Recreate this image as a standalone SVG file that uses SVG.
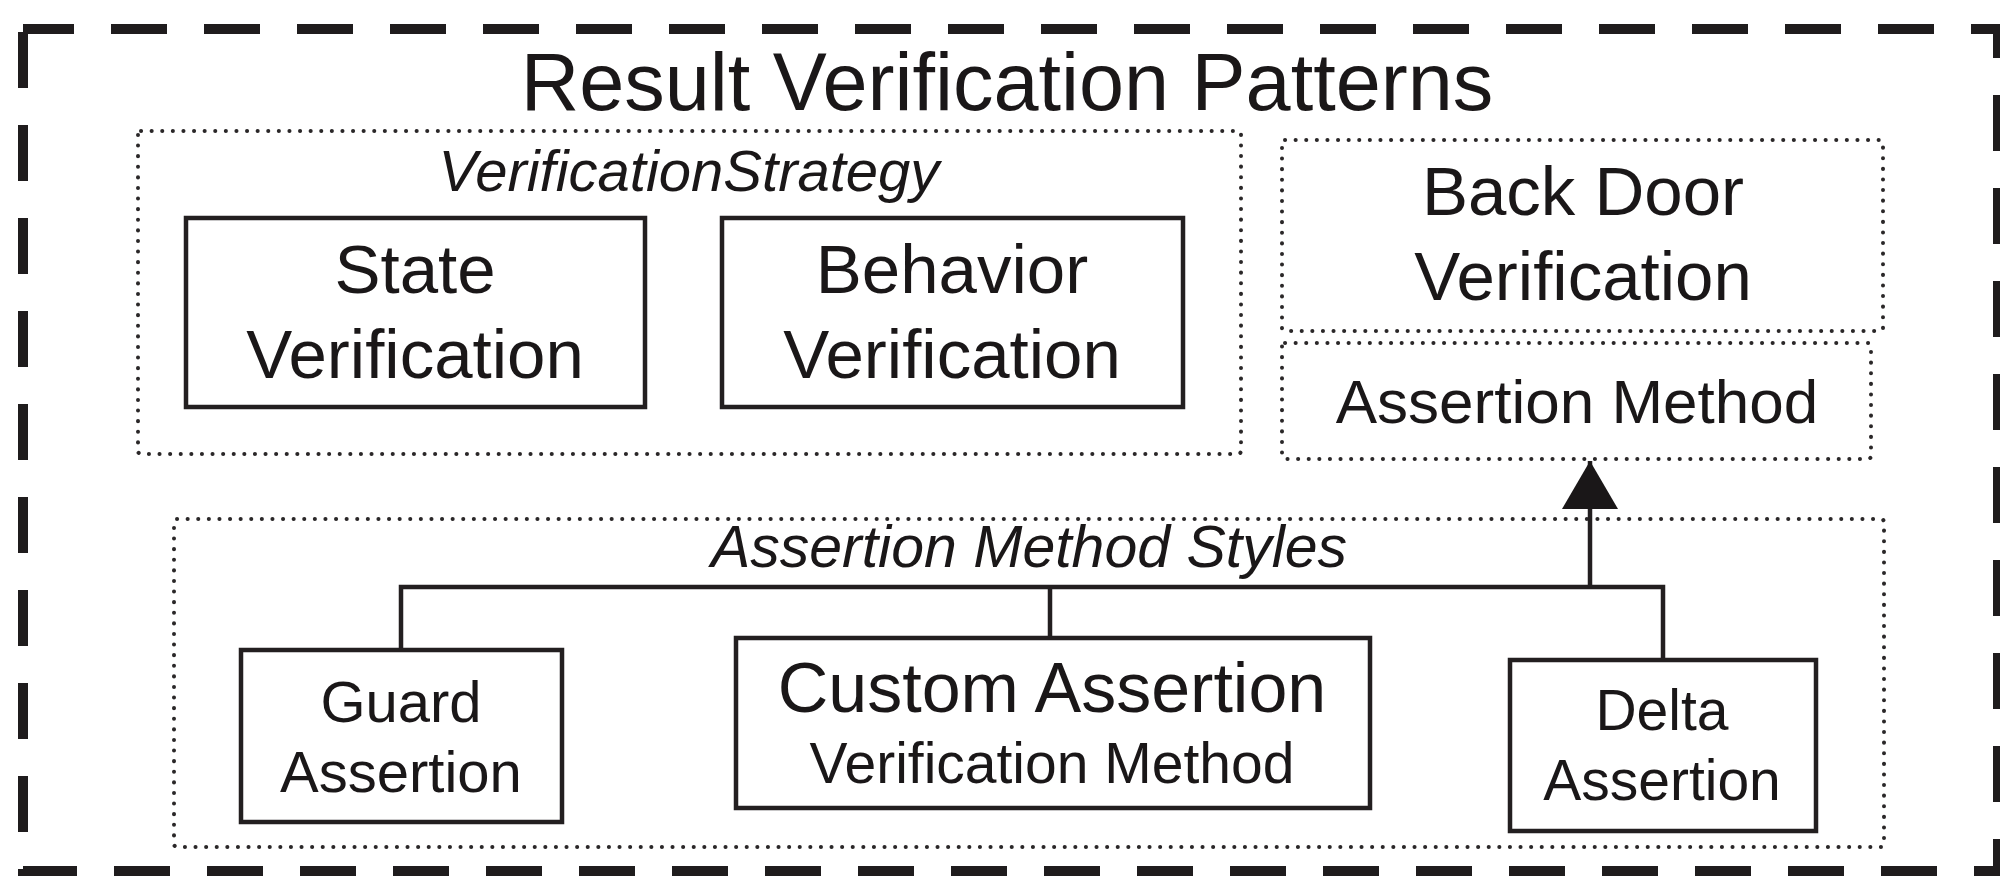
<svg xmlns="http://www.w3.org/2000/svg" width="2000" height="876" viewBox="0 0 2000 876">
  <defs>
    <style>
      .frame { fill: none; stroke: #1f1c1d; stroke-width: 10; stroke-dasharray: 56 37; }
      .group { fill: none; stroke: #2a2728; stroke-width: 4; stroke-dasharray: 0.1 10.5; stroke-linecap: round; }
      .box { fill: #ffffff; stroke: #231f20; stroke-width: 4.5; }
      .wire { fill: none; stroke: #231f20; stroke-width: 4.5; }
      text { font-family: "Liberation Sans", Arial, Helvetica, sans-serif; fill: #1a1718; text-anchor: middle; }
      .it { font-style: italic; }
    </style>
    <!-- filled triangular head, drawn along +x so orient="auto" turns it with the line -->
    <marker id="arrowhead" viewBox="0 0 48 56" refX="48" refY="28" markerWidth="48" markerHeight="56" markerUnits="userSpaceOnUse" orient="auto">
      <path d="M48 28 L0 0 L0 56 Z" fill="#1a1718"/>
    </marker>
  </defs>

  <rect width="2000" height="876" fill="#ffffff"/>

  <!-- outer dashed frame -->
  <g id="frame">
    <path class="frame" d="M23 29 L1998 29 L1998 871 L23 871 Z" stroke-dashoffset="5"/>
    <text x="1007" y="110" font-size="81">Result Verification Patterns</text>
  </g>

  <!-- verification strategy group -->
  <g id="verification-strategy">
    <rect class="group" x="138" y="131" width="1103" height="323" rx="3"/>
    <text class="it" x="689" y="191" font-size="58">VerificationStrategy</text>
  </g>

  <g id="state-verification">
    <rect class="box" x="186" y="218" width="459" height="189"/>
    <text x="415" y="293" font-size="69">State</text>
    <text x="415" y="378" font-size="69">Verification</text>
  </g>

  <g id="behavior-verification">
    <rect class="box" x="722" y="218" width="461" height="189"/>
    <text x="952" y="293" font-size="69">Behavior</text>
    <text x="952" y="378" font-size="69">Verification</text>
  </g>

  <g id="back-door-verification">
    <rect class="group" x="1282" y="140" width="601" height="191" rx="3"/>
    <text x="1583" y="215" font-size="69">Back Door</text>
    <text x="1583" y="300" font-size="69">Verification</text>
  </g>

  <g id="assertion-method">
    <rect class="group" x="1282" y="343" width="589" height="116" rx="3"/>
    <text x="1577" y="423" font-size="62">Assertion Method</text>
  </g>

  <!-- assertion method styles group -->
  <g id="assertion-method-styles">
    <rect class="group" x="174" y="519" width="1710" height="328" rx="3"/>
    <text class="it" x="1029" y="567" font-size="59">Assertion Method Styles</text>
  </g>

  <g id="connectors">
    <path class="wire" d="M401 650 L401 587 L1663 587 L1663 660 M1050 587 L1050 638"/>
    <path class="wire" d="M1590 587 L1590 461" marker-end="url(#arrowhead)"/>
  </g>

  <g id="guard-assertion">
    <rect class="box" x="241" y="650" width="321" height="172"/>
    <text x="401" y="722" font-size="58">Guard</text>
    <text x="401" y="792" font-size="58">Assertion</text>
  </g>

  <g id="custom-assertion">
    <rect class="box" x="736" y="638" width="634" height="170"/>
    <text x="1052" y="712" font-size="70">Custom Assertion</text>
    <text x="1052" y="783" font-size="57">Verification Method</text>
  </g>

  <g id="delta-assertion">
    <rect class="box" x="1510" y="660" width="306" height="171"/>
    <text x="1662" y="730" font-size="57">Delta</text>
    <text x="1662" y="800" font-size="57">Assertion</text>
  </g>
</svg>
